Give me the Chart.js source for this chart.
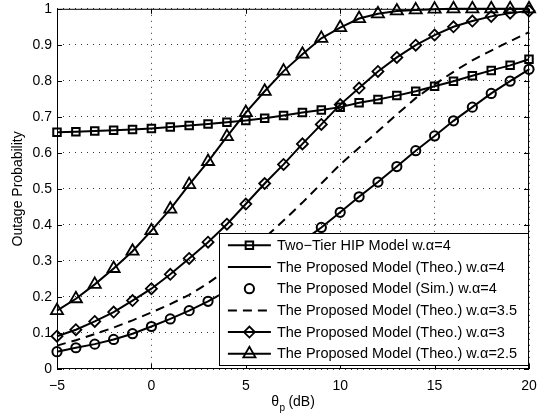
<!DOCTYPE html>
<html>
<head>
<meta charset="utf-8">
<script src="https://cdn.jsdelivr.net/npm/chart.js@4.4.1/dist/chart.umd.min.js"></script>
<style>
  html, body { margin: 0; padding: 0; background: #fff; }
  canvas { display: block; }
</style>
</head>
<body>
<canvas id="chart" width="540" height="419"></canvas>
<script>
// Outage probability versus the SIR threshold theta_p (dB)
const thetaDb = [-5, -4, -3, -2, -1, 0, 1, 2, 3, 4, 5, 6, 7, 8, 9, 10, 11, 12, 13, 14, 15, 16, 17, 18, 19, 20];

const twoTierHip = [0.657, 0.659, 0.661, 0.663, 0.665, 0.668, 0.672, 0.676, 0.680, 0.685,
                    0.690, 0.696, 0.704, 0.712, 0.719, 0.727, 0.739, 0.748, 0.759, 0.771,
                    0.785, 0.799, 0.814, 0.829, 0.843, 0.860];
const proposedTheoA4 = [0.048, 0.059, 0.069, 0.082, 0.098, 0.118, 0.139, 0.162, 0.188, 0.217,
                        0.250, 0.283, 0.318, 0.355, 0.393, 0.435, 0.478, 0.519, 0.562, 0.606,
                        0.647, 0.689, 0.727, 0.765, 0.799, 0.832];
const proposedSimA4 = [0.048, 0.059, 0.069, 0.082, 0.098, 0.118, 0.139, 0.162, 0.188, 0.217,
                       0.250, 0.283, 0.318, 0.355, 0.393, 0.435, 0.478, 0.519, 0.562, 0.606,
                       0.647, 0.689, 0.727, 0.765, 0.799, 0.832];
const proposedTheoA35 = [0.065, 0.080, 0.097, 0.115, 0.135, 0.157, 0.180, 0.206, 0.238, 0.276,
                         0.318, 0.364, 0.412, 0.462, 0.515, 0.568, 0.614, 0.660, 0.707, 0.752,
                         0.790, 0.825, 0.857, 0.884, 0.910, 0.935];
const proposedTheoA3 = [0.091, 0.109, 0.132, 0.158, 0.190, 0.223, 0.263, 0.307, 0.352, 0.402,
                        0.458, 0.515, 0.568, 0.625, 0.679, 0.734, 0.780, 0.826, 0.865, 0.899,
                        0.927, 0.950, 0.966, 0.979, 0.988, 0.994];
const proposedTheoA25 = [0.162, 0.195, 0.235, 0.279, 0.327, 0.384, 0.444, 0.512, 0.576, 0.645,
                         0.712, 0.771, 0.827, 0.874, 0.918, 0.948, 0.973, 0.986, 0.994, 0.997,
                         0.999, 1.000, 1.000, 1.000, 1.000, 1.000];

const xTickValues = [-5, 0, 5, 10, 15, 20];
const xTickLabels = ['\u22125', '0', '5', '10', '15', '20'];
const yTickValues = [0, 0.1, 0.2, 0.3, 0.4, 0.5, 0.6, 0.7, 0.8, 0.9, 1];
const yTickLabels = ['0', '0.1', '0.2', '0.3', '0.4', '0.5', '0.6', '0.7', '0.8', '0.9', '1'];

const seriesLabels = [
  'Two\u2212Tier HIP Model w.\u03b1=4',
  'The Proposed Model (Theo.) w.\u03b1=4',
  'The Proposed Model (Sim.) w.\u03b1=4',
  'The Proposed Model (Theo.) w.\u03b1=3.5',
  'The Proposed Model (Theo.) w.\u03b1=3',
  'The Proposed Model (Theo.) w.\u03b1=2.5'
];

const FONT = "'Liberation Sans', Arial, Helvetica, sans-serif";
const INK = '#000';
const NONE = 'rgba(0,0,0,0)';

const toPoints = ys => thetaDb.map((x, i) => ({ x, y: ys[i] }));

const datasets = [
  { label: seriesLabels[0], data: toPoints(twoTierHip), borderColor: INK, borderWidth: 2,
    pointStyle: 'rect', pointRadius: 5.3, pointBorderWidth: 2, pointBorderColor: INK, pointBackgroundColor: NONE },
  { label: seriesLabels[1], data: toPoints(proposedTheoA4), borderColor: INK, borderWidth: 2,
    pointRadius: 0 },
  { label: seriesLabels[2], data: toPoints(proposedSimA4), showLine: false, borderColor: INK,
    pointStyle: 'circle', pointRadius: 4.6, pointBorderWidth: 2, pointBorderColor: INK, pointBackgroundColor: NONE },
  { label: seriesLabels[3], data: toPoints(proposedTheoA35), borderColor: INK, borderWidth: 2,
    borderDash: [9, 6], pointRadius: 0 },
  { label: seriesLabels[4], data: toPoints(proposedTheoA3), borderColor: INK, borderWidth: 2,
    pointStyle: 'rectRot', pointRadius: 5.5, pointBorderWidth: 1.8, pointBorderColor: INK, pointBackgroundColor: NONE },
  { label: seriesLabels[5], data: toPoints(proposedTheoA25), borderColor: INK, borderWidth: 2,
    pointStyle: 'triangle', pointRadius: 7, pointBorderWidth: 1.8, pointBorderColor: INK, pointBackgroundColor: NONE }
];
datasets.forEach(d => { d.tension = 0; d.fill = false; d.clip = 10; });

// Axes frame, inward tick marks, axis titles and the boxed legend
const decorations = {
  id: 'decorations',
  afterDraw(chart) {
    const { ctx, chartArea: a, scales: { x, y } } = chart;
    ctx.save();

    // frame
    ctx.strokeStyle = INK;
    ctx.lineWidth = 1;
    ctx.setLineDash([]);
    ctx.strokeRect(a.left + 0.5, a.top + 0.5, a.right - a.left - 1, a.bottom - a.top - 1);

    // tick marks pointing into the plot
    const tl = 5;
    ctx.beginPath();
    xTickValues.forEach(v => {
      const px = Math.round(x.getPixelForValue(v)) + 0.5;
      ctx.moveTo(px, a.bottom); ctx.lineTo(px, a.bottom - tl);
      ctx.moveTo(px, a.top); ctx.lineTo(px, a.top + tl);
    });
    yTickValues.forEach(v => {
      const py = Math.round(y.getPixelForValue(v)) + 0.5;
      ctx.moveTo(a.left, py); ctx.lineTo(a.left + tl, py);
      ctx.moveTo(a.right, py); ctx.lineTo(a.right - tl, py);
    });
    ctx.stroke();

    // y axis title
    ctx.fillStyle = INK;
    ctx.font = '14px ' + FONT;
    ctx.textAlign = 'center';
    ctx.textBaseline = 'middle';
    ctx.save();
    ctx.translate(18, (a.top + a.bottom) / 2);
    ctx.rotate(-Math.PI / 2);
    ctx.fillText('Outage Probability', 0, 0);
    ctx.restore();

    // x axis title: theta with subscript p
    ctx.textAlign = 'left';
    ctx.textBaseline = 'alphabetic';
    const mainFont = '14px ' + FONT, subFont = '10px ' + FONT;
    ctx.font = mainFont; const wTheta = ctx.measureText('\u03b8').width;
    ctx.font = subFont; const wSub = ctx.measureText('p').width;
    ctx.font = mainFont; const wRest = ctx.measureText(' (dB)').width;
    const total = wTheta + wSub + wRest;
    let tx = (a.left + a.right) / 2 - total / 2;
    const base = 406;
    ctx.font = mainFont; ctx.fillText('\u03b8', tx, base); tx += wTheta;
    ctx.font = subFont; ctx.fillText('p', tx + 0.5, base + 5); tx += wSub;
    ctx.font = mainFont; ctx.fillText(' (dB)', tx, base);

    // legend
    const lgFont = '14.5px ' + FONT;
    ctx.font = lgFont;
    const textW = Math.max(...chart.data.datasets.map(d => ctx.measureText(d.label).width));
    const rowH = 21.7;
    const right = a.right - 1, bottom = a.bottom - 4;
    const left = right - (textW + 58 + 11);
    const top = bottom - (rowH * 6 + 1.5);
    ctx.fillStyle = '#fff';
    ctx.fillRect(left, top, right - left, bottom - top);
    ctx.strokeStyle = INK;
    ctx.lineWidth = 1;
    ctx.strokeRect(Math.round(left) + 0.5, Math.round(top) + 0.5, Math.round(right - left), Math.round(bottom - top));

    chart.data.datasets.forEach((d, i) => {
      const cy = top + 12 + i * rowH;
      const x0 = left + 9, x1 = left + 52, cx = (x0 + x1) / 2;
      if (d.showLine !== false) {
        ctx.save();
        ctx.strokeStyle = d.borderColor;
        ctx.lineWidth = d.borderWidth;
        ctx.setLineDash(d.borderDash || []);
        ctx.beginPath(); ctx.moveTo(x0, cy); ctx.lineTo(x1, cy); ctx.stroke();
        ctx.restore();
      }
      if (d.pointRadius > 0) {
        ctx.save();
        ctx.strokeStyle = d.pointBorderColor;
        ctx.fillStyle = d.pointBackgroundColor;
        ctx.lineWidth = d.pointBorderWidth;
        Chart.helpers.drawPoint(ctx, { pointStyle: d.pointStyle, radius: d.pointRadius, rotation: 0, borderWidth: d.pointBorderWidth }, cx, cy);
        ctx.restore();
      }
      ctx.fillStyle = INK;
      ctx.font = lgFont;
      ctx.textAlign = 'left';
      ctx.textBaseline = 'middle';
      ctx.fillText(d.label, left + 58, cy + 0.5);
    });

    ctx.restore();
  }
};

const gridCommon = { color: '#333', lineWidth: 1, drawTicks: false };
const borderCommon = { display: false, dash: [1, 5] };

new Chart(document.getElementById('chart'), {
  type: 'line',
  data: { datasets },
  options: {
    responsive: false,
    animation: false,
    devicePixelRatio: 1,
    layout: { padding: { left: 0, right: 11, top: 5, bottom: 0 } },
    plugins: { legend: { display: false }, tooltip: { enabled: false } },
    scales: {
      x: {
        type: 'linear', min: -5, max: 20,
        grid: gridCommon, border: borderCommon,
        afterBuildTicks: s => { s.ticks = xTickValues.map(v => ({ value: v })); },
        afterFit: s => { s.height = 50; s.paddingLeft = 0; s.paddingRight = 0; },
        ticks: {
          padding: 9, color: INK, font: { family: FONT, size: 14 }, maxRotation: 0, autoSkip: false,
          callback: (v, i) => xTickLabels[i]
        }
      },
      y: {
        type: 'linear', min: 0, max: 1,
        grid: gridCommon, border: borderCommon,
        afterBuildTicks: s => { s.ticks = yTickValues.map(v => ({ value: v })); },
        afterFit: s => { s.width = 57; s.paddingTop = 0; s.paddingBottom = 0; },
        ticks: {
          padding: 5, color: INK, font: { family: FONT, size: 14 }, autoSkip: false,
          callback: (v, i) => yTickLabels[i]
        }
      }
    }
  },
  plugins: [decorations]
});
</script>
</body>
</html>
